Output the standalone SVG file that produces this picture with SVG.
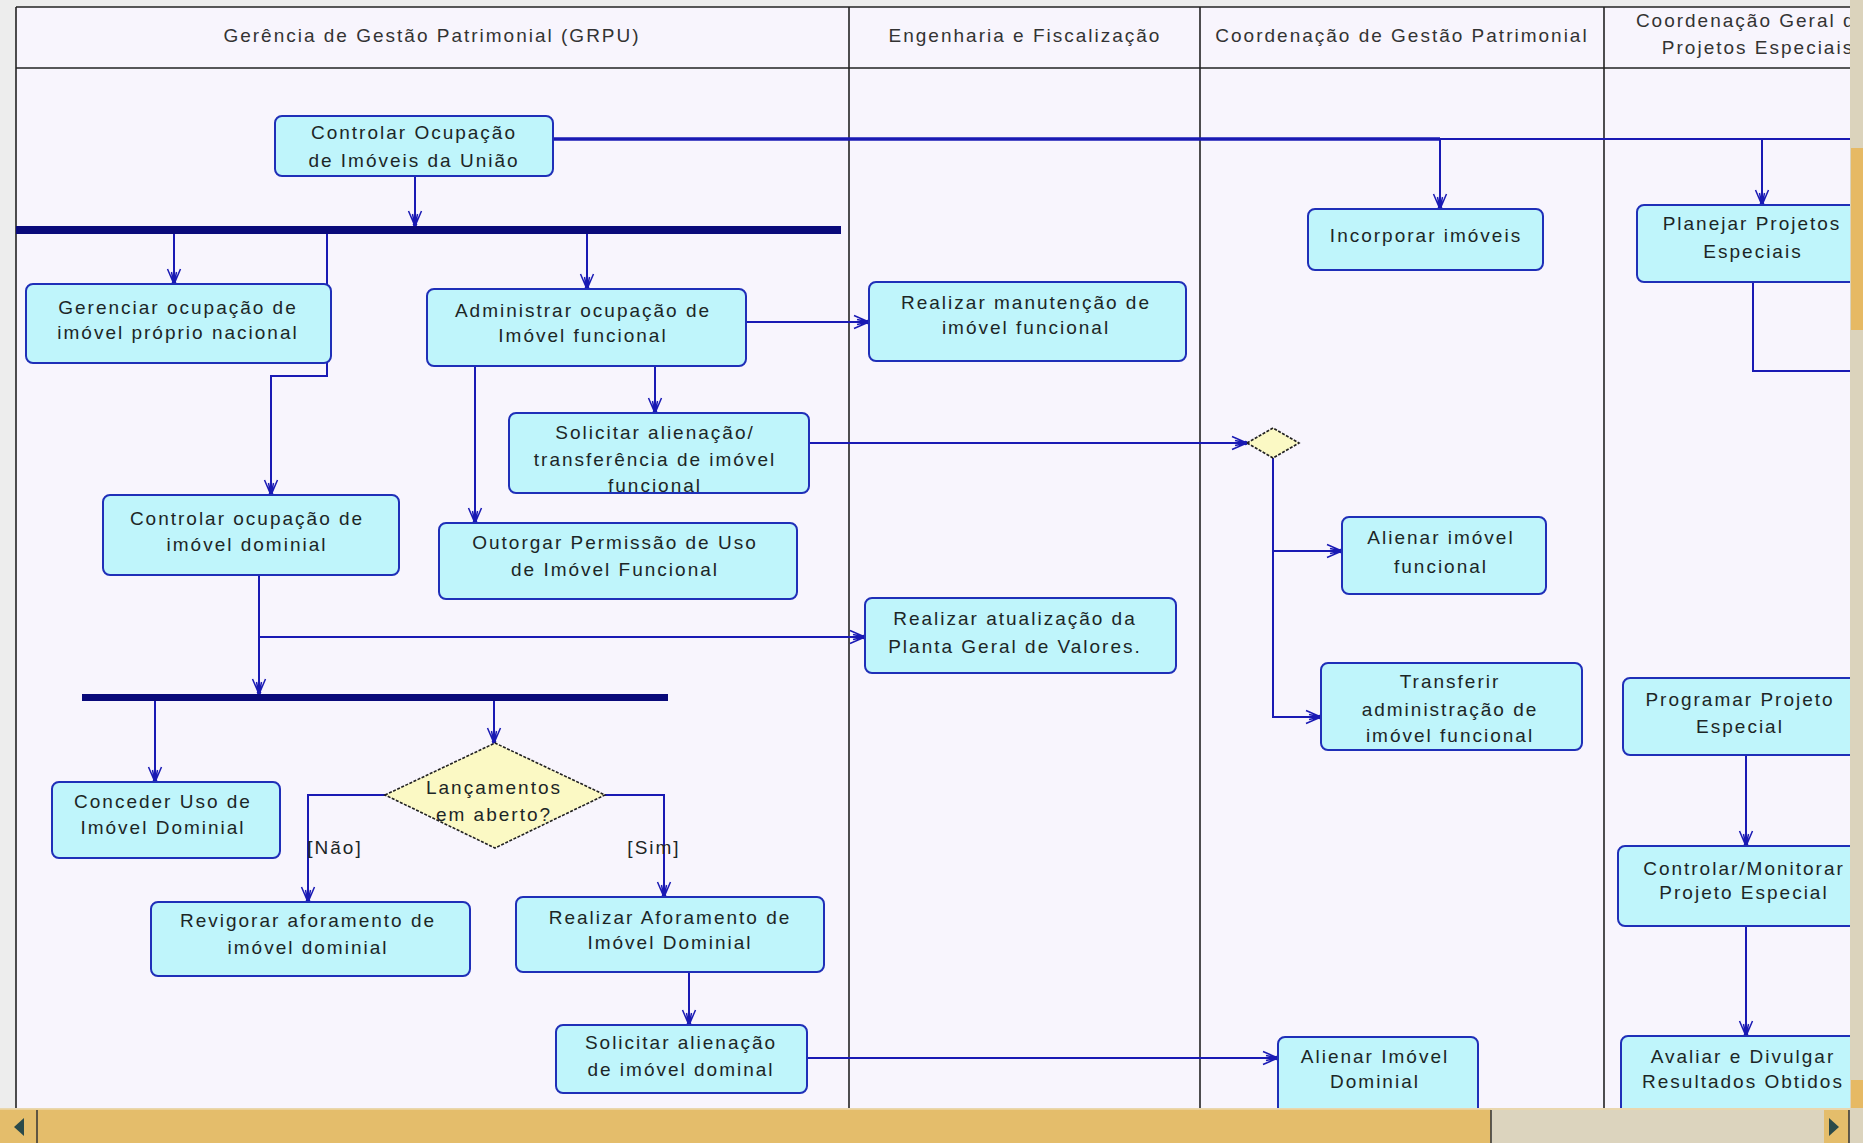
<svg xmlns="http://www.w3.org/2000/svg" width="1863" height="1143" viewBox="0 0 1863 1143">
<style>
.t{font-family:"Liberation Sans",Arial,sans-serif;font-size:19px;letter-spacing:2px;fill:#1c2626;text-anchor:middle}
.h{font-family:"Liberation Sans",Arial,sans-serif;font-size:19px;letter-spacing:2px;fill:#333;text-anchor:middle}
.box{fill:#bff5fb;stroke:#1f2fb8;stroke-width:2}
.dia{fill:#fbf9c4;stroke:#222;stroke-width:1.6;stroke-dasharray:3 1.5}
.bar{fill:#0a0a7a}
.c{fill:none;stroke:#1a1ab4;stroke-width:2}
.ca{fill:none;stroke:#1a1ab4;stroke-width:2;marker-end:url(#arr)}
.lane{stroke:#222;stroke-width:1.6;fill:none}
</style>
<defs>
<marker id="arr" viewBox="-16 -8 18 16" refX="0" refY="0" markerWidth="18" markerHeight="16" orient="auto" markerUnits="userSpaceOnUse">
<path d="M-15,-6.5 L0,0 L-15,6.5 M-12,-2.5 L0,0 L-12,2.5" fill="none" stroke="#1a1ab4" stroke-width="1.5"/>
<circle cx="-1.5" cy="0" r="2.2" fill="#1a1ab4"/>
</marker>
</defs>
<rect x="0" y="0" width="1863" height="1143" fill="#ededed"/>
<rect x="16" y="7" width="1850" height="1110" fill="#f8f5fd"/>
<g id="lanes">
<line class="lane" x1="16" y1="7" x2="1850" y2="7"/>
<line class="lane" x1="16" y1="68" x2="1850" y2="68"/>
<line class="lane" x1="16" y1="7" x2="16" y2="1108"/>
<line class="lane" x1="849" y1="7" x2="849" y2="1108"/>
<line class="lane" x1="1200" y1="7" x2="1200" y2="1108"/>
<line class="lane" x1="1604" y1="7" x2="1604" y2="1108"/>
<text class="h" x="432" y="42">Gerência de Gestão Patrimonial (GRPU)</text>
<text class="h" x="1025" y="42">Engenharia e Fiscalização</text>
<text class="h" x="1402" y="42">Coordenação de Gestão Patrimonial</text>
<text class="h" x="1752" y="27">Coordenação Geral de</text>
<text class="h" x="1758" y="54">Projetos Especiais</text>
</g>
<g id="connectors">
<path class="ca" d="M415,176 V226"/>
<path class="c" d="M553,139 H1440" style="stroke-width:3.5"/>
<path class="c" d="M1440,139 H1850"/>
<path class="ca" d="M1440,139 V209"/>
<path class="ca" d="M1762,139 V205"/>
<path class="ca" d="M174,234 V284"/>
<path class="ca" d="M327,234 V376 H271 V495"/>
<path class="ca" d="M587,234 V289"/>
<path class="ca" d="M746,322 H869"/>
<path class="ca" d="M655,366 V413"/>
<path class="ca" d="M475,366 V523"/>
<path class="ca" d="M809,443 H1247"/>
<path class="ca" d="M1273,458 V717 H1321"/>
<path class="ca" d="M1273,551 H1342"/>
<path class="ca" d="M259,575 V694"/>
<path class="ca" d="M259,637 H865"/>
<path class="ca" d="M155,701 V782"/>
<path class="ca" d="M494,701 V743"/>
<path class="ca" d="M385,795 H308 V902"/>
<path class="ca" d="M605,795 H664 V897"/>
<path class="ca" d="M689,972 V1025"/>
<path class="ca" d="M807,1058 H1278"/>
<path class="c" d="M1753,282 V371 H1850"/>
<path class="ca" d="M1746,755 V846"/>
<path class="ca" d="M1746,926 V1036"/>
<text class="t" x="335" y="854">[Não]</text>
<text class="t" x="654" y="854">[Sim]</text>
</g>
<g id="bar1"><rect class="bar" x="16" y="226" width="825" height="8"/></g>
<g id="bar2"><rect class="bar" x="82" y="694" width="586" height="7"/></g>
<g id="n1"><rect class="box" x="275" y="116" width="278" height="60" rx="7"/>
<text class="t" x="414" y="139">Controlar Ocupação</text><text class="t" x="414" y="167">de Imóveis da União</text></g>
<g id="n2"><rect class="box" x="26" y="284" width="305" height="79" rx="7"/>
<text class="t" x="178" y="314">Gerenciar ocupação de</text><text class="t" x="178" y="339">imóvel próprio nacional</text></g>
<g id="n3"><rect class="box" x="427" y="289" width="319" height="77" rx="7"/>
<text class="t" x="583" y="317">Administrar ocupação de</text><text class="t" x="583" y="342">Imóvel funcional</text></g>
<g id="n4"><rect class="box" x="869" y="282" width="317" height="79" rx="7"/>
<text class="t" x="1026" y="309">Realizar manutenção de</text><text class="t" x="1026" y="334">imóvel funcional</text></g>
<g id="n5"><rect class="box" x="1308" y="209" width="235" height="61" rx="7"/>
<text class="t" x="1426" y="242">Incorporar imóveis</text></g>
<g id="n6"><rect class="box" x="1637" y="205" width="260" height="77" rx="7"/>
<text class="t" x="1752" y="230">Planejar Projetos</text><text class="t" x="1753" y="258">Especiais</text></g>
<g id="n7"><rect class="box" x="509" y="413" width="300" height="80" rx="7"/>
<text class="t" x="655" y="439">Solicitar alienação/</text><text class="t" x="655" y="466">transferência de imóvel</text><text class="t" x="655" y="492">funcional</text></g>
<g id="n8"><rect class="box" x="103" y="495" width="296" height="80" rx="7"/>
<text class="t" x="247" y="525">Controlar ocupação de</text><text class="t" x="247" y="551">imóvel dominial</text></g>
<g id="n9"><rect class="box" x="439" y="523" width="358" height="76" rx="7"/>
<text class="t" x="615" y="549">Outorgar Permissão de Uso</text><text class="t" x="615" y="576">de Imóvel Funcional</text></g>
<g id="n10"><rect class="box" x="865" y="598" width="311" height="75" rx="7"/>
<text class="t" x="1015" y="625">Realizar atualização da</text><text class="t" x="1015" y="653">Planta Geral de Valores.</text></g>
<g id="n11"><polygon class="dia" points="1247,443 1273,428 1299,443 1273,458"/></g>
<g id="n12"><rect class="box" x="1342" y="517" width="204" height="77" rx="7"/>
<text class="t" x="1441" y="544">Alienar imóvel</text><text class="t" x="1441" y="573">funcional</text></g>
<g id="n13"><rect class="box" x="1321" y="663" width="261" height="87" rx="7"/>
<text class="t" x="1450" y="688">Transferir</text><text class="t" x="1450" y="716">administração de</text><text class="t" x="1450" y="742">imóvel funcional</text></g>
<g id="n14"><rect class="box" x="1623" y="678" width="260" height="77" rx="7"/>
<text class="t" x="1740" y="706">Programar Projeto</text><text class="t" x="1740" y="733">Especial</text></g>
<g id="n15"><rect class="box" x="52" y="782" width="228" height="76" rx="7"/>
<text class="t" x="163" y="808">Conceder Uso de</text><text class="t" x="163" y="834">Imóvel Dominial</text></g>
<g id="n16"><polygon class="dia" points="385,795 495,743 605,795 495,848"/>
<text class="t" x="494" y="794">Lançamentos</text><text class="t" x="494" y="821">em aberto?</text></g>
<g id="n17"><rect class="box" x="151" y="902" width="319" height="74" rx="7"/>
<text class="t" x="308" y="927">Revigorar aforamento de</text><text class="t" x="308" y="954">imóvel dominial</text></g>
<g id="n18"><rect class="box" x="516" y="897" width="308" height="75" rx="7"/>
<text class="t" x="670" y="924">Realizar Aforamento de</text><text class="t" x="670" y="949">Imóvel Dominial</text></g>
<g id="n19"><rect class="box" x="556" y="1025" width="251" height="68" rx="7"/>
<text class="t" x="681" y="1049">Solicitar alienação</text><text class="t" x="681" y="1076">de imóvel dominal</text></g>
<g id="n20"><rect class="box" x="1278" y="1037" width="200" height="90" rx="7"/>
<text class="t" x="1375" y="1063">Alienar Imóvel</text><text class="t" x="1375" y="1088">Dominial</text></g>
<g id="n21"><rect class="box" x="1618" y="846" width="260" height="80" rx="7"/>
<text class="t" x="1744" y="875">Controlar/Monitorar</text><text class="t" x="1744" y="899">Projeto Especial</text></g>
<g id="n22"><rect class="box" x="1621" y="1036" width="260" height="90" rx="7"/>
<text class="t" x="1743" y="1063">Avaliar e Divulgar</text><text class="t" x="1743" y="1088">Resultados Obtidos</text></g>
<g id="scrollbars">
<rect x="1850" y="0" width="13" height="1143" fill="#dbd3bc"/>
<rect x="1851" y="148" width="12" height="182" fill="#e6b964"/>
<rect x="0" y="1108" width="1863" height="35" fill="#dcd4be"/>
<rect x="0" y="1109" width="1491" height="34" fill="#e4bd6b"/>
<line x1="0" y1="1109" x2="1850" y2="1109" stroke="#eed9a8" stroke-width="1.5"/>
<polygon points="24,1118 24,1136 14,1127" fill="#2a4a4a"/>
<line x1="37" y1="1110" x2="37" y2="1143" stroke="#333" stroke-width="1.5"/>
<line x1="1491" y1="1110" x2="1491" y2="1143" stroke="#333" stroke-width="1.5"/>
<rect x="1824" y="1110" width="25" height="33" fill="#e4bd6b"/>
<polygon points="1829,1118 1829,1136 1839,1127" fill="#2a4a4a"/>
<line x1="1849" y1="1110" x2="1849" y2="1143" stroke="#333" stroke-width="1.5"/>
<rect x="1851" y="1080" width="12" height="28" fill="#e6b964"/>
</g>
</svg>
